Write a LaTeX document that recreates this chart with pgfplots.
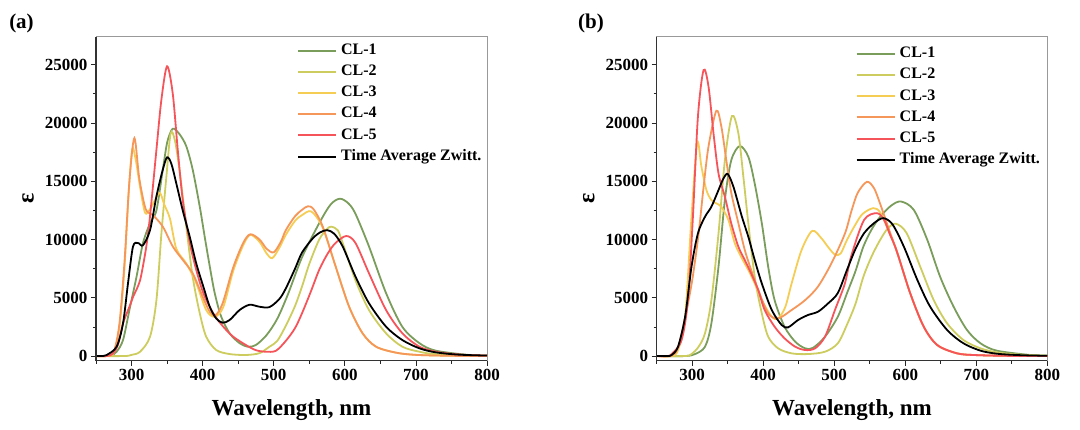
\documentclass[border=0pt]{standalone}
\usepackage{fontspec}
\setmainfont{Liberation Serif}
\usepackage{pgfplots}
\usepackage{pgfplotstable}
\pgfplotsset{compat=1.18}

\definecolor{cA}{RGB}{122,157,92}
\definecolor{cB}{RGB}{205,205,95}
\definecolor{cC}{RGB}{245,205,85}
\definecolor{cD}{RGB}{245,150,90}
\definecolor{cE}{RGB}{245,85,90}

% ---------------- panel (a) ----------------
\pgfplotstableread{
x y
250 0
265 0
272 80
279 370
288 1370
297 3950
307 6800
316 9670
326 11400
335 12500
344 16000
350 18300
356 19350
360 19500
368 19000
377 18000
386 16000
396 12800
403 10200
410 7700
417 5400
426 3400
438 1950
452 1100
464 800
475 950
490 1800
505 3200
520 5300
540 8500
564 11400
580 13000
593 13500
605 13100
615 12200
634 9400
658 5400
681 2500
705 1100
728 460
775 90
800 50
}\aA
\pgfplotstableread{
x y
250 0
290 0
300 100
312 370
326 1660
335 4800
342 10500
349 15400
355 19100
361 18500
368 15700
377 11100
386 6800
396 3660
405 1660
419 520
438 170
461 90
480 250
494 800
505 1300
517 2600
530 4300
540 6000
550 7900
564 10000
575 10900
581 11100
590 10800
597 9700
615 6500
634 3950
658 1950
681 800
705 370
730 150
800 20
}\aB
\pgfplotstableread{
x y
250 0
265 0
275 300
283 2500
290 7500
296 14000
301 17750
306 16800
312 14500
319 12300
326 12600
334 13500
340 14000
346 13000
354 11800
363 9200
377 7950
391 6250
405 3950
417 3370
429 4200
443 7300
457 9500
467 10400
480 9800
490 8800
498 8400
508 9300
517 10400
530 11600
540 12100
553 12400
569 11000
587 7700
606 4240
625 1950
644 800
672 290
700 100
750 20
800 0
}\aC
\pgfplotstableread{
x y
250 0
265 0
275 350
283 2800
290 8000
297 15000
304 18700
311 15200
320 12600
330 12100
344 11100
358 9400
372 8250
386 7100
400 5100
410 3800
418 3500
428 4500
443 7600
457 9700
467 10450
480 10000
490 9200
500 8900
510 9800
517 10800
530 12000
540 12550
548 12850
556 12600
569 11100
587 7700
606 4240
625 1950
644 800
672 290
700 100
750 20
800 0
}\aD
\pgfplotstableread{
x y
250 0
265 0
274 230
281 1000
288 2800
297 4230
303 5200
307 5700
312 6500
316 7700
321 9500
326 12000
335 17700
342 22000
350 24860
358 22500
365 17700
372 13400
382 9700
391 7400
401 5400
415 3660
429 2520
443 1660
461 940
475 500
489 370
503 450
517 1300
530 2400
540 3700
552 5500
564 7400
576 8800
587 9700
602 10300
615 9700
634 7100
658 3950
681 1950
705 800
728 370
760 130
800 40
}\aE
\pgfplotstableread{
x y
250 0
260 0
265 85
279 800
288 2800
295 6230
302 9380
309 9700
316 9500
326 10800
335 13700
344 16000
350 17050
356 16500
363 14800
372 12500
382 10200
391 7950
401 5950
410 4230
419 3230
428 2860
438 3090
452 3950
466 4400
480 4230
494 4200
508 4900
517 5800
530 7500
540 8900
555 10100
565 10600
575 10800
585 10500
597 9400
615 6820
634 4530
658 2520
681 1370
705 660
728 315
760 120
800 40
}\aZ

% ---------------- panel (b) ----------------
\pgfplotstableread{
x y
250 0
290 0
304 170
318 800
327 2800
337 7660
346 13400
355 16800
367 18020
379 17100
388 14800
398 11400
407 7660
416 4800
430 2520
445 1230
459 660
470 700
487 1660
505 3370
518 5400
530 7300
541 9390
553 10900
565 11970
580 12900
594 13260
612 12540
631 9970
649 6820
668 4240
687 2230
706 1090
729 460
776 90
800 40
}\bA
\pgfplotstableread{
x y
250 0
290 0
299 170
309 800
318 1950
327 4800
337 10500
346 16800
356 20600
365 19100
372 15400
379 11400
388 6800
398 3660
407 1660
421 660
440 230
463 170
487 370
505 1090
518 2700
530 4500
541 6800
553 8600
565 10000
576 11000
587 11350
602 10540
621 7680
640 4810
659 2800
682 1370
706 660
729 315
760 120
800 30
}\bB
\pgfplotstableread{
x y
250 0
270 0
280 500
290 3370
299 11950
307 18300
313 16240
320 14240
327 13380
334 13100
341 12800
351 11670
360 9670
370 8380
379 7380
388 6230
398 4800
412 3370
421 3230
431 4200
440 6230
454 9100
469 10740
482 10100
491 9380
501 8700
509 8800
518 9970
530 11300
540 12200
555 12690
565 12300
578 10500
588 9000
607 5380
626 2520
645 945
673 230
700 80
750 10
800 0
}\bC
\pgfplotstableread{
x y
250 0
270 0
280 700
290 3300
300 6500
309 10500
316 14500
323 18000
334 21050
341 19700
348 16800
355 14000
365 11400
374 9100
383 7380
393 5660
407 3660
421 3230
440 3950
459 4800
477 5950
496 7950
515 10500
524 12400
533 14000
546 14950
556 14400
565 13000
578 10700
588 9000
607 5380
626 2520
645 945
673 230
700 80
750 10
800 0
}\bD
\pgfplotstableread{
x y
250 0
265 0
271 170
285 1370
294 4800
301 11950
308 20500
316 24540
323 23100
330 19100
337 15670
346 13670
355 11380
365 9380
374 8240
383 7090
393 5660
402 3950
416 2520
430 1520
445 800
459 515
473 660
487 1660
501 3950
515 6230
524 8600
542 11680
560 12260
570 11700
578 10500
588 9000
607 5380
626 2520
645 945
673 230
700 80
750 10
800 0
}\bE
\pgfplotstableread{
x y
250 0
265 0
271 85
280 800
290 3370
299 7660
308 10520
318 11950
327 12810
337 14240
344 15240
350 15620
358 14530
370 11950
379 10240
388 8240
398 6230
412 3950
426 2660
435 2460
449 3090
463 3520
477 3800
491 4500
505 5400
518 7400
530 9200
542 10540
556 11400
569 11830
582 11300
598 9390
617 6530
635 4240
659 2230
682 1090
706 460
729 200
760 80
800 20
}\bZ

\pgfplotsset{
  specaxis/.style={
    scale only axis,
    height=324pt,
    xmin=250, xmax=800, ymin=-400, ymax=27400,
    xtick={300,400,...,800}, minor xtick={250,350,...,750},
    ytick={0,5000,...,25000}, minor ytick={2500,7500,...,22500},
    tick align=outside, xtick pos=left, ytick pos=left,
    major tick length=5pt, minor tick length=3pt,
    tick style={black!85, line width=0.8pt},
    axis line style={draw=gray!80, line width=0.8pt},
    scaled y ticks=false,
    /pgf/number format/1000 sep={},
    /pgf/number format/assume math mode=true,
    tick label style={font=\bfseries\fontsize{17}{17}\selectfont},
    ylabel={\bfseries ε},
    ylabel style={font=\fontsize{24}{24}\selectfont, at={(axis description cs:-0.174,0.5)}, anchor=center},
    xlabel={\bfseries Wavelength, nm},
    xlabel style={font=\fontsize{23}{23}\selectfont, at={(axis description cs:0.5,-0.151)}, anchor=center},
    legend cell align=left,
    legend style={anchor=north west, draw=none, fill=none, inner sep=0pt,
      row sep=6.7pt, column sep=4pt,
      nodes={inner sep=0pt, text height=11pt, text depth=3.5pt},
      font=\bfseries\fontsize{16}{16}\selectfont},
    legend image code/.code={\draw[##1, line width=2pt] (0pt,0pt) -- (38pt,0pt);},
    every axis plot/.append style={line width=1.8pt, smooth, no markers},
    after end axis/.code={\draw[black!80, line width=1.3pt] (rel axis cs:0,1) -- (rel axis cs:0,0) -- (rel axis cs:1,0);},
  }
}

\begin{document}
\begin{tikzpicture}[x=1pt,y=1pt]
\useasboundingbox (0,0) rectangle (1080,429);

\begin{axis}[specaxis, at={(96pt,68.3pt)}, anchor=south west, width=391pt,
  legend style={at={(axis description cs:0.514,0.98)}}]
\addplot[cA] table[x=x,y=y] {\aA};
\addplot[cB] table[x=x,y=y] {\aB};
\addplot[cC] table[x=x,y=y] {\aC};
\addplot[cD] table[x=x,y=y] {\aD};
\addplot[cE] table[x=x,y=y] {\aE};
\addplot[black] table[x=x,y=y] {\aZ};
\legend{CL-1,CL-2,CL-3,CL-4,CL-5,Time Average Zwitt.}
\end{axis}

\begin{axis}[specaxis, at={(656.7pt,68.3pt)}, anchor=south west, width=390.6pt,
  legend style={at={(axis description cs:0.509,0.97)}}]
\addplot[cA] table[x=x,y=y] {\bA};
\addplot[cB] table[x=x,y=y] {\bB};
\addplot[cC] table[x=x,y=y] {\bC};
\addplot[cD] table[x=x,y=y] {\bD};
\addplot[cE] table[x=x,y=y] {\bE};
\addplot[black] table[x=x,y=y] {\bZ};
\legend{CL-1,CL-2,CL-3,CL-4,CL-5,Time Average Zwitt.}
\end{axis}

\node[font=\bfseries\fontsize{21}{21}\selectfont] at (21.5,406) {(a)};
\node[font=\bfseries\fontsize{21}{21}\selectfont] at (591,406) {(b)};
\end{tikzpicture}
\end{document}
